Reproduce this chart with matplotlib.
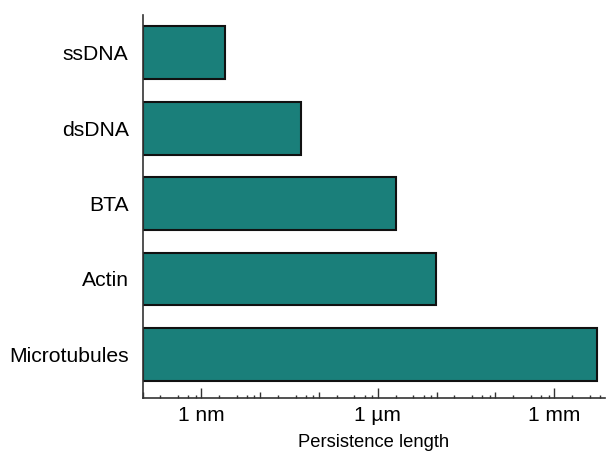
import matplotlib
matplotlib.use("Agg")
import matplotlib.pyplot as plt
import numpy as np
from matplotlib.ticker import FixedLocator, NullFormatter

plt.rcParams['font.family'] = ['Liberation Sans', 'DejaVu Sans']

# data (persistence length in nm)
categories = ["ssDNA", "dsDNA", "BTA", "Actin", "Microtubules"]
values_nm = [2.5, 50, 2050, 9.8e3, 5.3e6]
tick_values = [1, 1e3, 1e6]
tick_labels = ["1 nm", "1 µm", "1 mm"]

xmin, xmax = 0.1, 7.2e6
bar_color = "#1a7f7a"

fig = plt.figure(figsize=(6.08, 4.58), dpi=100)
ax = fig.add_axes([0.2345, 0.131, 0.76, 0.836])

ypos = np.arange(len(categories))[::-1]
ax.barh(ypos, np.array(values_nm) - xmin, left=xmin, height=0.7,
        color=bar_color, edgecolor="#111111", linewidth=1.5)

ax.set_xscale("log")
ax.set_xlim(xmin, xmax)
ax.set_ylim(-0.58, 4.5)

ax.set_yticks(ypos)
ax.set_yticklabels(categories, fontsize=15.2)
ax.tick_params(axis="y", length=0, pad=10)

decades = [10.0 ** k for k in range(-1, 7)]
ax.xaxis.set_major_locator(FixedLocator(decades))
ax.set_xticklabels([tick_labels[tick_values.index(d)] if d in tick_values else "" for d in decades],
                   fontsize=15)
minors = [m * d for d in decades for m in (2, 4, 6, 8) if m * d <= xmax]
ax.xaxis.set_minor_locator(FixedLocator(minors))
ax.xaxis.set_minor_formatter(NullFormatter())
ax.tick_params(axis="x", which="major", direction="in", length=4, width=1, pad=6, color="#333333")
ax.tick_params(axis="x", which="minor", direction="in", length=2, width=1, color="#333333")
for d, t in zip(decades, ax.xaxis.get_major_ticks()):
    if d in tick_values:
        t.tick1line.set_markersize(7)

ax.set_xlabel("Persistence length", fontsize=13.2, labelpad=6)

for s in ["top", "right"]:
    ax.spines[s].set_visible(False)
for s in ["left", "bottom"]:
    ax.spines[s].set_color("#333333")
    ax.spines[s].set_linewidth(1.2)

fig.savefig("out.png", dpi=100)
